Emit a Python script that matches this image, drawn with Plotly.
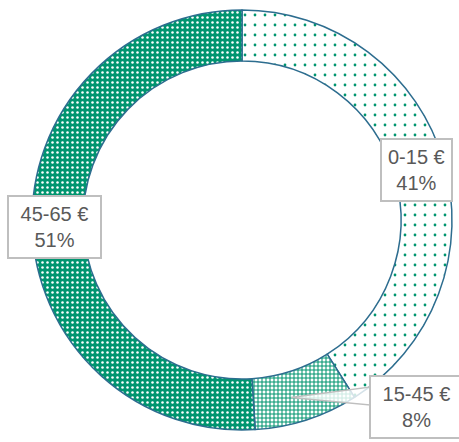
import math
import plotly.graph_objects as go

# ---- data ----
categories = ["0-15 €", "15-45 €", "45-65 €"]
shares = [41, 8, 51]

# ---- styling ----
GREEN = "#00956F"
EDGE = "#2D6D8F"
TEXT = "#595959"
BOX = "#BFBFBF"

W, H = 459, 442
CX, CY, R = 242, 220, 210    # pie centre / radius in pixels
HOLE = 0.757

pat_shape = [".", "+", "."]
pat_fg = [GREEN, GREEN, "white"]
pat_bg = ["white", "white", GREEN]
pat_size = [10, 4, 5]
pat_solid = [0.06, 0.45, 0.2]
side_pad = ["", "\u00a0", "\u00a0"]

fig = go.Figure(go.Pie(
    labels=categories,
    values=shares,
    hole=HOLE,
    sort=False,
    direction="clockwise",
    rotation=0,
    textinfo="none",
    hoverinfo="label+percent",
    marker=dict(
        colors=[GREEN] * len(categories),
        line=dict(color=EDGE, width=1.5),
        pattern=dict(shape=pat_shape, fgcolor=pat_fg, bgcolor=pat_bg,
                     size=pat_size, solidity=pat_solid, fillmode="replace"),
    ),
    domain=dict(x=[(CX - R) / W, (CX + R) / W],
                y=[(H - CY - R) / H, (H - CY + R) / H]),
    showlegend=False,
))


def px2paper(x, y):
    return x / W, (H - y) / H


total = sum(shares)
mid_r = R * (1 + HOLE) / 2
annotations = []
shapes = []
cum = 0
for i, (lab, v) in enumerate(zip(categories, shares)):
    ang = (cum + v / 2) / total * 2 * math.pi
    cum += v
    tx = CX + mid_r * math.sin(ang)
    ty = CY - mid_r * math.cos(ang)
    pct = round(v / total * 100)
    text = f"{side_pad[i]}{lab}{side_pad[i]}<br>{pct}%"
    if i == 1:
        bx, by = 416, 407
        left = 370
        x0, y0 = px2paper(tx - 8, ty + 2)
        x1, y1 = px2paper(left, by - 20)
        x2, y2 = px2paper(left, by - 2)
        shapes.append(dict(type="path", xref="paper", yref="paper",
                           path=f"M {x0} {y0} L {x1} {y1} L {x2} {y2} Z",
                           fillcolor="rgba(255,255,255,0.8)",
                           line=dict(color=BOX, width=1.5), layer="above"))
        ax, ay = px2paper(bx, by)
    else:
        ax, ay = px2paper(tx - 3, ty + 1)
    annotations.append(dict(
        x=ax, y=ay, xref="paper", yref="paper", text=text, showarrow=False,
        font=dict(family="Liberation Sans, Arial, sans-serif", size=20, color=TEXT),
        bgcolor="white", bordercolor=BOX, borderwidth=2, borderpad=6,
        align="center", xanchor="center", yanchor="middle",
    ))

fig.update_layout(
    width=W, height=H,
    margin=dict(l=0, r=0, t=0, b=0),
    paper_bgcolor="white",
    plot_bgcolor="white",
    annotations=annotations,
    shapes=shapes,
)

fig.write_html("out.html",
               config={"displayModeBar": False},
               post_script="document.body.style.margin='0px';"
                           "document.body.style.overflow='hidden';")
